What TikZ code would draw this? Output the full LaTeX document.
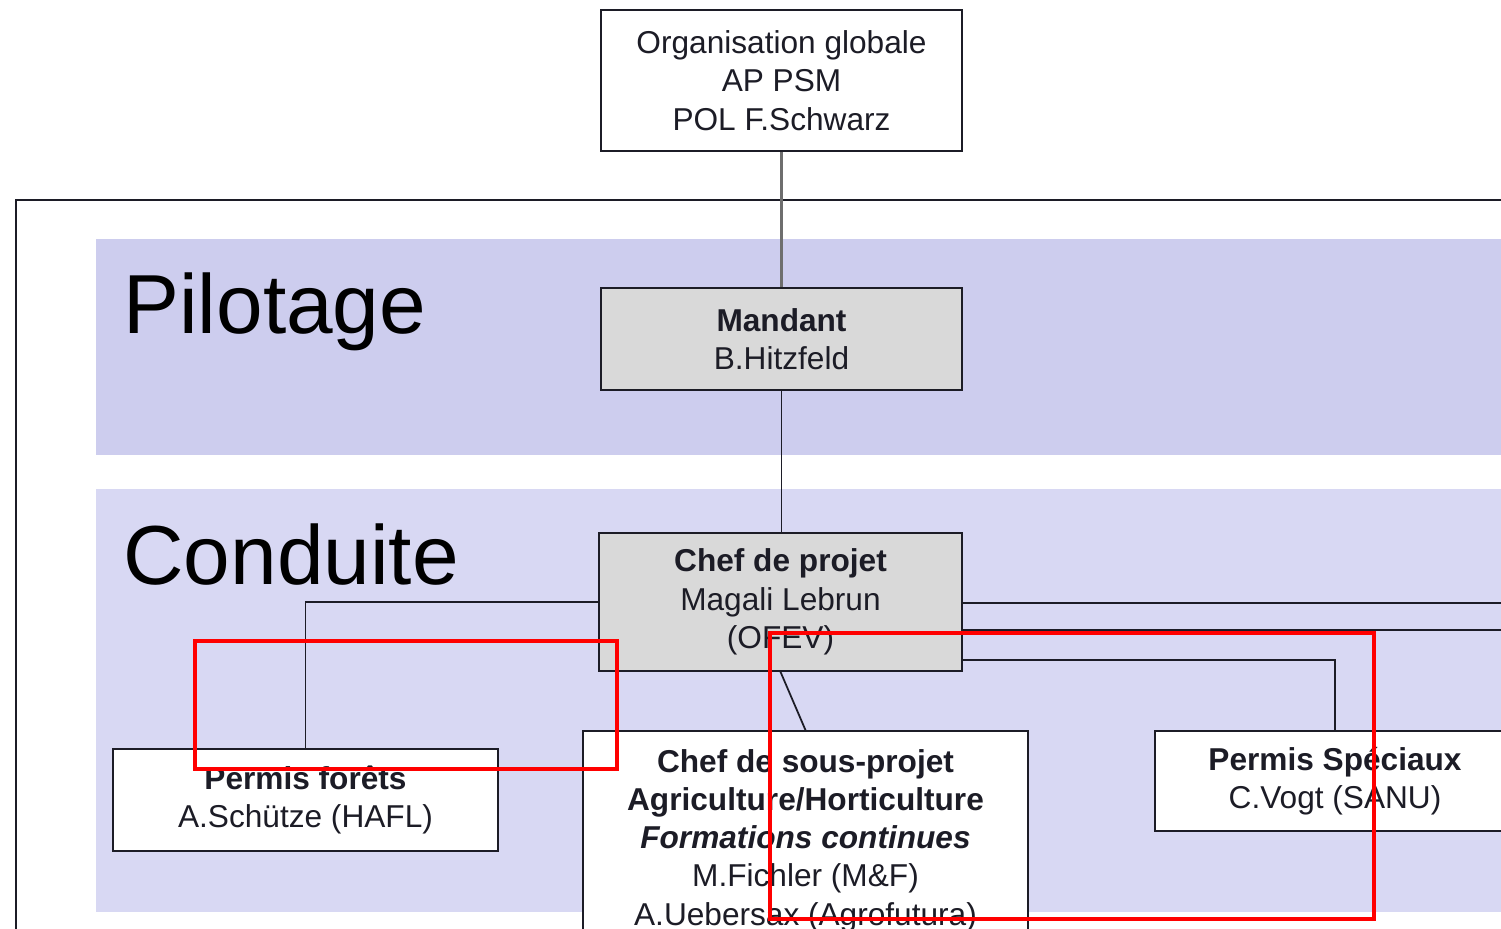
\documentclass[tikz,border=0pt]{standalone}
\usepackage{fontspec}
\setmainfont{Liberation Sans}
\definecolor{pilotband}{RGB}{205,205,238}
\definecolor{conduband}{RGB}{216,216,243}
\definecolor{boxgray}{RGB}{217,217,217}
\definecolor{inkdark}{RGB}{28,28,38}
\definecolor{linkgray}{RGB}{110,110,110}

\begin{document}
\begin{tikzpicture}[
  x=0.02cm,y=-0.02cm,
  orgbox/.style={draw=inkdark, line width=1pt, fill=white, inner sep=0pt,
    align=center, text=inkdark, font=\fontsize{18}{21.8}\selectfont},
  greybox/.style={orgbox, fill=boxgray},
  link/.style={draw=inkdark, line width=1pt},
  bandlabel/.style={anchor=base west, inner sep=0pt, text=black,
    font=\fontsize{47.7}{50}\selectfont},
  redframe/.style={draw=red, line width=2.4pt},
]

\clip (0,0) rectangle (1501,929);

% frame and bands
\draw[inkdark, line width=1pt] (16,940) -- (16,200) -- (1510,200);
\fill[pilotband] (96,239) rectangle (1510,455);
\fill[conduband] (96,489) rectangle (1510,912);
\node[bandlabel] (pilotage) at (123,333) {Pilotage};
\node[bandlabel] (conduite) at (123,584) {Conduite};

% boxes
\node[orgbox, minimum width=7.22cm, minimum height=2.82cm] (globale) at (781.5,80.5)
  {Organisation globale\\AP PSM\\POL F.Schwarz};
\node[greybox, minimum width=7.22cm, minimum height=2.04cm] (mandant) at (781.5,339)
  {\textbf{Mandant}\\B.Hitzfeld};
\node[greybox, minimum width=7.26cm, minimum height=2.76cm] (chef) at (780.5,602)
  {\textbf{Chef de projet}\\Magali Lebrun\\(OFEV)};
\node[orgbox, minimum width=7.7cm, minimum height=2.04cm] (forets) at (305.5,800)
  {\textbf{Permis forêts}\\A.Schütze (HAFL)};
\node[orgbox, minimum width=8.9cm, minimum height=4.38cm] (sousprojet) at (805.5,840.5)
  {\textbf{Chef de sous-projet}\\\textbf{Agriculture/Horticulture}\\
   \textbf{\textit{Formations continues}}\\M.Fichler (M\&F)\\A.Uebersax (Agrofutura)};
\node[orgbox, minimum width=7.2cm, minimum height=2.0cm] (speciaux) at (1335,781)
  {\textbf{Permis Spéciaux}\\C.Vogt (SANU)};

% connectors
\coordinate (exitA) at (1510,603);
\coordinate (exitB) at (1510,630);
\coordinate (turn) at (1335,660);
\draw[linkgray, line width=1.2pt] (globale) -- (mandant);
\draw[link] (mandant) -- (mandant |- chef.north);
\draw[link] (chef.west) -| (forets.north);
\draw[link] (chef.south) -- (sousprojet.north);
\draw[link] (chef.east |- turn) -| (speciaux.north);
\draw[link] (chef.east |- exitA) -- (exitA);
\draw[link] (chef.east |- exitB) -- (exitB);

% highlights
\draw[redframe] (195,641) rectangle (617,769);
\draw[redframe] (770,633) rectangle (1374,919);

\end{tikzpicture}
\end{document}
